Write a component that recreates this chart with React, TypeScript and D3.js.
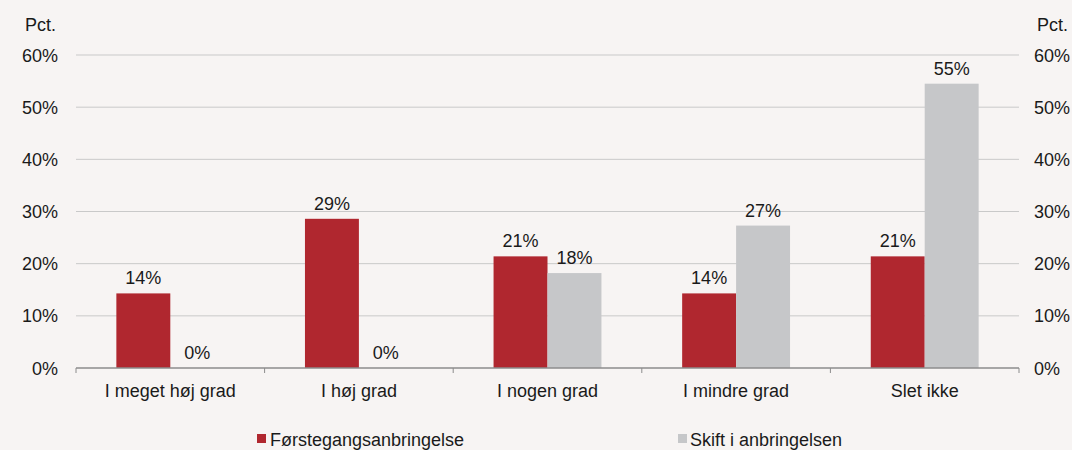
import React from "react";
import * as d3 from "d3";

const categories = ["I meget høj grad", "I høj grad", "I nogen grad", "I mindre grad", "Slet ikke"];
const seriesNames = ["Førstegangsanbringelse", "Skift i anbringelsen"];
const foerstegang = [14.3, 28.6, 21.4, 14.3, 21.4];
const skift = [0, 0, 18.2, 27.3, 54.5];
const yTicks = [0, 10, 20, 30, 40, 50, 60];
const colors = ["#b0272f", "#c6c7c9"];

const W = 1072, H = 450;
const left = 76, right = 1019, top = 55, bottom = 368;
const font = "Liberation Sans, Arial, sans-serif";
const fs = 18;

export default function App() {
  const x = d3.scaleBand<string>().domain(categories).range([left, right]).padding(0);
  const y = d3.scaleLinear().domain([0, 60]).range([bottom, top]);
  const bw = x.bandwidth() * 0.286;
  const series = [foerstegang, skift];
  const boundaries = d3.range(categories.length + 1).map((i) => left + i * x.step());
  return (
    <svg width={W} height={H} style={{ position: "absolute", left: 0, top: 0, background: "#f7f4f3" }} fontFamily={font}>
      <rect x={0} y={0} width={W} height={H} fill="#f7f4f3" />
      {yTicks.filter((t) => t > 0).map((t) => (
        <line key={t} x1={left} x2={right} y1={y(t)} y2={y(t)} stroke="#c9c9c9" strokeWidth={1} />
      ))}
      {series.map((vals, si) =>
        categories.map((c, ci) => {
          const cx = x(c)! + x.bandwidth() / 2;
          const bx = si === 0 ? cx - bw : cx;
          return (
            <rect key={`${si}-${ci}`} x={bx} y={y(vals[ci])} width={bw} height={bottom - y(vals[ci])} fill={colors[si]} />
          );
        })
      )}
      <line x1={left} x2={right} y1={bottom} y2={bottom} stroke="#8c8c8c" strokeWidth={1.5} />
      {boundaries.map((b, i) => (
        <line key={i} x1={b} x2={b} y1={bottom} y2={bottom + 5} stroke="#8c8c8c" strokeWidth={1} />
      ))}
      {series.map((vals, si) =>
        categories.map((c, ci) => {
          const cx = x(c)! + x.bandwidth() / 2;
          const lx = si === 0 ? cx - bw / 2 : cx + bw / 2;
          return (
            <text key={`l${si}-${ci}`} x={lx} y={y(vals[ci]) - 9} textAnchor="middle" fontSize={fs} fill="#1a1a1a">
              {`${Math.round(vals[ci])}%`}
            </text>
          );
        })
      )}
      {yTicks.map((t) => (
        <g key={t}>
          <text x={58} y={y(t) + 6.5} textAnchor="end" fontSize={fs} fill="#1a1a1a">{`${t}%`}</text>
          <text x={1034} y={y(t) + 6.5} textAnchor="start" fontSize={fs} fill="#1a1a1a">{`${t}%`}</text>
        </g>
      ))}
      <text x={25} y={31} fontSize={fs} fill="#1a1a1a">Pct.</text>
      <text x={1037} y={31} fontSize={fs} fill="#1a1a1a">Pct.</text>
      {categories.map((c) => (
        <text key={c} x={x(c)! + x.bandwidth() / 2} y={397} textAnchor="middle" fontSize={fs} fill="#1a1a1a">{c}</text>
      ))}
      <rect x={257} y={434} width={9} height={9} fill={colors[0]} />
      <text x={270} y={446} fontSize={fs} fill="#1a1a1a">{seriesNames[0]}</text>
      <rect x={678} y={434} width={9} height={9} fill={colors[1]} />
      <text x={690} y={446} fontSize={fs} fill="#1a1a1a">{seriesNames[1]}</text>
    </svg>
  );
}
